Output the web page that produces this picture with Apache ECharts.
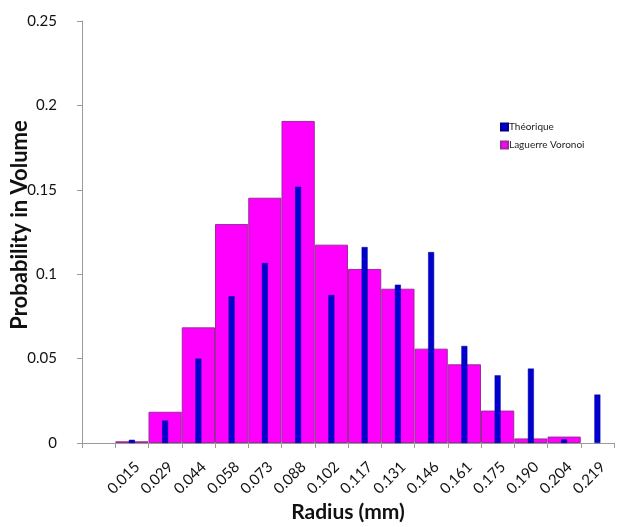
<!DOCTYPE html>
<html>
<head>
<meta charset="utf-8">
<script src="https://cdn.jsdelivr.net/npm/echarts@6/dist/echarts.min.js"></script>
<style>html,body{margin:0;padding:0;background:#fff}#c{width:637px;height:527px}</style>
</head>
<body>
<div id="c"></div>
<script>
var categories = ['', '0.015', '0.029', '0.044', '0.058', '0.073', '0.088', '0.102', '0.117', '0.131', '0.146', '0.161', '0.175', '0.190', '0.204', '0.219'];
var theorique = [null, 0.0019, 0.0133, 0.050, 0.0869, 0.1066, 0.1518, 0.0877, 0.1161, 0.0938, 0.1131, 0.0575, 0.0401, 0.0441, 0.0021, 0.0287];
var laguerre = [null, 0.001, 0.0185, 0.0685, 0.1297, 0.1453, 0.1908, 0.1175, 0.1031, 0.0914, 0.0559, 0.0466, 0.0192, 0.0027, 0.0038, null];
var yTicks = [0, 0.05, 0.1, 0.15, 0.2, 0.25];

var chart = echarts.init(document.getElementById('c'));
var font = 'Lato, "Open Sans", sans-serif';
chart.setOption({
  animation: false,
  textStyle: { fontFamily: font },
  grid: { left: 82, right: 23, top: 21, bottom: 84, containLabel: false, outerBoundsMode: 'none' },
  legend: {
    orient: 'vertical',
    left: 495, top: 117,
    itemWidth: 7, itemHeight: 7, itemGap: 8,
    textStyle: { fontSize: 10, color: '#222', fontFamily: font, padding: [0, 0, 0, -4] },
    data: [
      { name: 'Théorique', icon: 'rect' },
      { name: 'Laguerre Voronoi', icon: 'rect' }
    ]
  },
  xAxis: [{
    type: 'category',
    data: categories,
    name: 'Radius (mm)',
    nameLocation: 'middle',
    nameGap: 59,
    nameMoveOverlap: false,
    nameTextStyle: { fontSize: 21, fontWeight: 'bold', color: '#111', fontFamily: font },
    axisLine: { lineStyle: { color: '#9a9a9a' } },
    axisTick: { show: true, length: 5, lineStyle: { color: '#9a9a9a' } },
    axisLabel: { rotate: 45, fontSize: 15, color: '#111', margin: 16, interval: 0, align: 'right', verticalAlign: 'top' }
  }, {
    type: 'category',
    data: categories,
    show: false
  }],
  yAxis: {
    type: 'value',
    min: 0, max: 0.25, interval: 0.05,
    name: 'Probability in Volume',
    nameLocation: 'middle',
    nameGap: 51,
    nameMoveOverlap: false,
    nameTextStyle: { fontSize: 22, fontWeight: 'bold', color: '#111', fontFamily: font, padding: [0, 0, 0, 14] },
    axisLine: { show: true, lineStyle: { color: '#9a9a9a' } },
    axisTick: { show: true, length: 5, lineStyle: { color: '#9a9a9a' } },
    splitLine: { show: false },
    axisLabel: {
      fontSize: 15, color: '#111', margin: 25,
      formatter: function (v) {
        for (var i = 0; i < yTicks.length; i++) {
          if (Math.abs(v - yTicks[i]) < 1e-9) return String(yTicks[i]);
        }
        return '';
      }
    }
  },
  series: [{
    name: 'Laguerre Voronoi',
    type: 'bar',
    xAxisIndex: 1,
    data: laguerre,
    barWidth: '100%',
    itemStyle: { color: '#ff00ff', borderColor: '#9c2a9c', borderWidth: 1 },
    z: 2
  }, {
    name: 'Théorique',
    type: 'bar',
    xAxisIndex: 0,
    data: theorique,
    barWidth: 6,
    itemStyle: { color: '#0000d0', borderColor: '#000090', borderWidth: 0.5 },
    z: 3
  }]
});
</script>
</body>
</html>
